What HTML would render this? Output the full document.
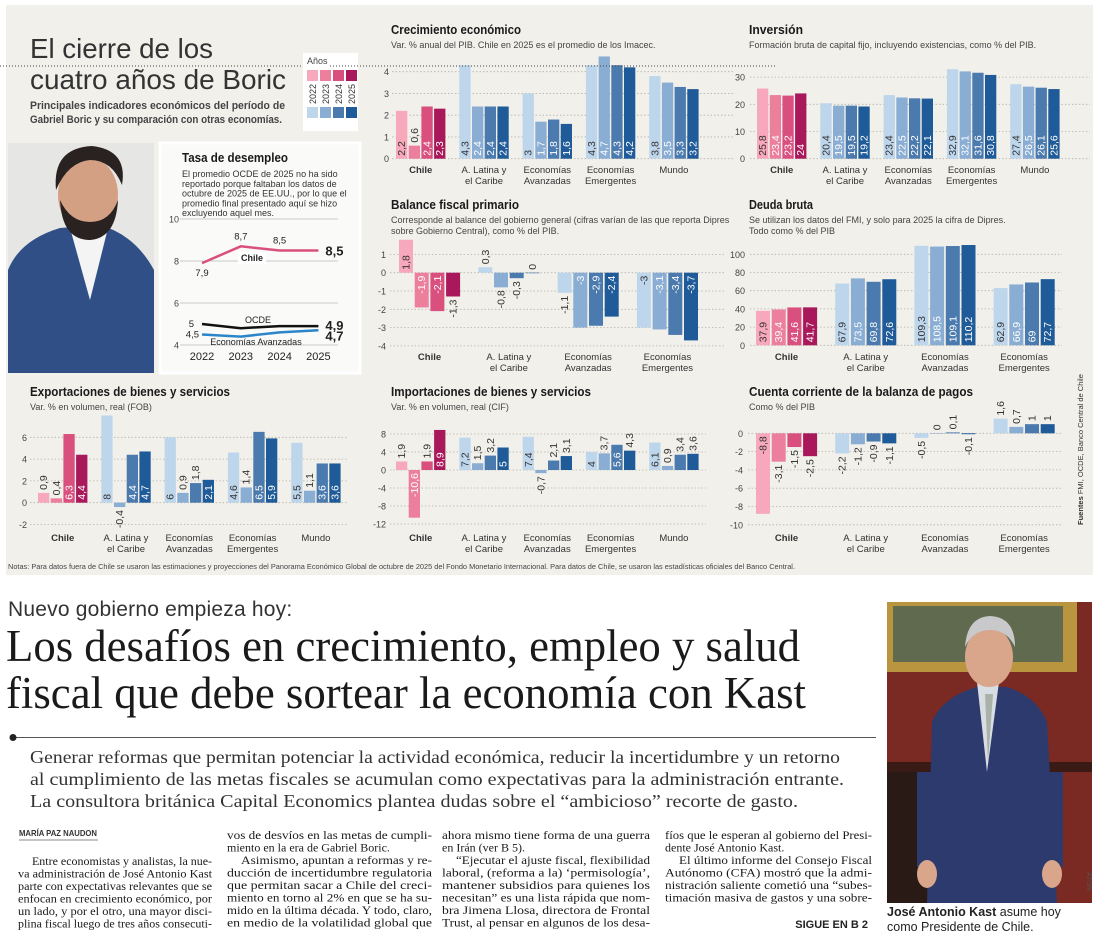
<!DOCTYPE html>
<html><head><meta charset="utf-8">
<style>
*{margin:0;padding:0;box-sizing:border-box}
body{width:1100px;height:943px;background:#fff;position:relative;overflow:hidden;font-family:"Liberation Sans",sans-serif;color:#222}
.abs{position:absolute}
</style></head><body>
<svg id="info" class="abs" style="left:0;top:0" width="1100" height="580">
<rect x="6" y="5" width="1087" height="570" fill="#f2f0eb"/>
</svg>

<div class="abs" style="left:8px;top:598px;font-size:21px;color:#333;letter-spacing:0.2px">Nuevo gobierno empieza hoy:</div>

<svg id="article" class="abs" style="left:0;top:580px" width="885" height="363">
<g font-family="Liberation Serif, serif" fill="#1a1a1a">
<text x="6" y="81" font-size="45" textLength="794" lengthAdjust="spacingAndGlyphs">Los desafíos en crecimiento, empleo y salud</text>
<text x="6" y="128" font-size="45" textLength="800" lengthAdjust="spacingAndGlyphs">fiscal que debe sortear la economía con Kast</text>
</g>
<line x1="14" y1="157.5" x2="876" y2="157.5" stroke="#555" stroke-width="1"/>
<circle cx="13" cy="157.5" r="3.5" fill="#222"/>
<g font-family="Liberation Serif, serif" fill="#333" font-size="18">
<text x="30" y="183" textLength="810" lengthAdjust="spacingAndGlyphs">Generar reformas que permitan potenciar la actividad económica, reducir la incertidumbre y un retorno</text>
<text x="30" y="205" textLength="814" lengthAdjust="spacingAndGlyphs">al cumplimiento de las metas fiscales se acumulan como expectativas para la administración entrante.</text>
<text x="30" y="227" textLength="768" lengthAdjust="spacingAndGlyphs">La consultora británica Capital Economics plantea dudas sobre el “ambicioso” recorte de gasto.</text>
</g>
<text x="19" y="256" font-size="8.5" font-weight="bold" fill="#333" textLength="78" lengthAdjust="spacingAndGlyphs">MARÍA PAZ NAUDON</text>
<line x1="19" y1="260" x2="98" y2="260" stroke="#888" stroke-width="1"/>
<text x="868" y="348" font-size="11" font-weight="bold" fill="#222" text-anchor="end">SIGUE EN B 2</text>
</svg>

<svg class="abs" style="left:887px;top:602px" width="205" height="301">
<rect width="205" height="301" fill="#7a2a22"/>
<rect x="0" y="0" width="190" height="70" fill="#b8953e"/>
<rect x="6" y="4" width="170" height="56" fill="#5f6a4e"/>
<rect x="0" y="160" width="205" height="10" fill="#3a1a14"/>
<rect x="0" y="170" width="60" height="131" fill="#2a1a15"/>
<path d="M40 301 L45 120 Q55 95 90 85 L120 85 Q150 95 160 120 L170 301 Z" fill="#2c3a6e"/>
<path d="M90 80 L100 170 L112 80 Z" fill="#d8dde3"/>
<path d="M98 92 L101 160 L106 92 Z" fill="#a9b1a8"/>
<ellipse cx="102" cy="55" rx="24" ry="30" fill="#d9a58b"/>
<path d="M78 45 Q80 15 103 14 Q128 15 128 45 Q120 28 103 28 Q86 28 78 45Z" fill="#c9c9cc"/>
<rect x="30" y="170" width="16" height="95" fill="#2c3a6e"/>
<rect x="160" y="170" width="16" height="95" fill="#2c3a6e"/>
<ellipse cx="40" cy="272" rx="10" ry="14" fill="#d9a58b"/>
<ellipse cx="165" cy="272" rx="10" ry="14" fill="#d9a58b"/>
</svg>
<div class="abs" style="left:1092px;top:872px;font-size:7px;color:#555;transform:rotate(90deg);transform-origin:0 0">ATON</div>
<div class="abs" style="left:887px;top:905px;font-size:12.5px;line-height:15px;color:#222"><b>José Antonio Kast</b> asume hoy<br>como Presidente de Chile.</div>

<script>
const NS='http://www.w3.org/2000/svg';
const svg=document.getElementById('info');
const art=document.getElementById('article');
const PINK=['#f7a8ba','#ec7f9c','#d9507f','#a8185b'];
const BLUE=['#bed6ec','#8aadd4','#4b7aae','#1f5b98'];

// ---- data ----
const groups5=[['Chile'],['A. Latina y','el Caribe'],['Economías','Avanzadas'],['Economías','Emergentes'],['Mundo']];
const groups4=[['Chile'],['A. Latina y','el Caribe'],['Economías','Avanzadas'],['Economías','Emergentes']];
const years=['2022','2023','2024','2025'];

const growthValues=[[2.2,0.6,2.4,2.3],[4.3,2.4,2.4,2.4],[3,1.7,1.8,1.6],[4.3,4.7,4.3,4.2],[3.8,3.5,3.3,3.2]];
const growthTicks=[0,1,2,3,4];
const investValues=[[25.8,23.4,23.2,24],[20.4,19.5,19.5,19.2],[23.4,22.5,22.2,22.1],[32.9,32.1,31.6,30.8],[27.4,26.5,26.1,25.6]];
const investTicks=[0,10,20,30];
const fiscalValues=[[1.8,-1.9,-2.1,-1.3],[0.3,-0.8,-0.3,0],[-1.1,-3,-2.9,-2.4],[-3,-3.1,-3.4,-3.7]];
const fiscalTicks=[1,0,-1,-2,-3,-4];
const debtValues=[[37.9,39.4,41.6,41.7],[67.9,73.5,69.8,72.6],[109.3,108.5,109.1,110.2],[62.9,66.9,69,72.7]];
const debtTicks=[0,20,40,60,80,100];
const exportValues=[[0.9,0.4,6.3,4.4],[8,-0.4,4.4,4.7],[6,0.9,1.8,2.1],[4.6,1.4,6.5,5.9],[5.5,1.1,3.6,3.6]];
const exportTicks=[-2,0,2,4,6];
const importValues=[[1.9,-10.6,1.9,8.9],[7.2,1.5,3.2,5],[7.4,-0.7,2.1,3.1],[4,3.7,5.6,4.3],[6.1,0.9,3.4,3.6]];
const importTicks=[8,4,0,-4,-8,-12];
const currentValues=[[-8.8,-3.1,-1.5,-2.5],[-2.2,-1.2,-0.9,-1.1],[-0.5,0,0.1,-0.1],[1.6,0.7,1,1]];
const currentTicks=[0,-2,-4,-6,-8,-10];

const unempChile=[7.9,8.7,8.5,8.5];
const unempOcde=[5,4.8,4.9,4.9];
const unempAvz=[4.5,4.4,4.6,4.7];
const unempTicks=[4,6,8,10];

function fmt(v){return String(v).replace('.',',');}
function el(tag,parent){const e=document.createElementNS(NS,tag);parent.appendChild(e);return e;}
function txt(parent,x,y,s,size,opts){
  const t=el('text',parent);t.setAttribute('x',x);t.setAttribute('y',y);
  t.setAttribute('font-size',size);t.setAttribute('font-family',(opts&&opts.serif)?'Liberation Serif, serif':'Liberation Sans, sans-serif');
  t.setAttribute('fill',(opts&&opts.fill)||'#333');
  if(opts&&opts.bold)t.setAttribute('font-weight','bold');
  if(opts&&opts.anchor)t.setAttribute('text-anchor',opts.anchor);
  if(opts&&opts.len){t.setAttribute('textLength',opts.len);t.setAttribute('lengthAdjust','spacingAndGlyphs');}
  t.textContent=s;return t;
}

// ---- article body columns ----
const col1=[['Entre economistas y analistas, la nue-','i'],['va administración de José Antonio Kast','j'],['parte con expectativas relevantes que se','j'],['enfocan en crecimiento económico, por','j'],['un lado, y por el otro, una mayor disci-','j'],['plina fiscal luego de tres años consecuti-','j']];
const col2=[['vos de desvíos en las metas de cumpli-','j'],['miento en la era de Gabriel Boric.','e'],['Asimismo, apuntan a reformas y re-','i'],['ducción de incertidumbre regulatoria','j'],['que permitan sacar a Chile del creci-','j'],['miento en torno al 2% en que se ha su-','j'],['mido en la última década. Y todo, claro,','j'],['en medio de la volatilidad global que','j']];
const col3=[['ahora mismo tiene forma de una guerra','j'],['en Irán (ver B 5).','e'],['“Ejecutar el ajuste fiscal, flexibilidad','i'],['laboral, (reforma a la) ‘permisología’,','j'],['mantener subsidios para quienes los','j'],['necesitan” es una lista rápida que nom-','j'],['bra Jimena Llosa, directora de Frontal','j'],['Trust, al pensar en algunos de los desa-','j']];
const col4=[['fíos que le esperan al gobierno del Presi-','j'],['dente José Antonio Kast.','e'],['El último informe del Consejo Fiscal','i'],['Autónomo (CFA) mostró que la admi-','j'],['nistración saliente cometió una “subes-','j'],['timación masiva de gastos y una sobre-','j']];
function column(lines,x,w,y0,name){
  const g=el('g',art);
  
  
  lines.forEach((ln,i)=>{
    const ind=ln[1]==='i'?14:0;
    const t=txt(g,x+ind,y0+i*12.5,ln[0],12,{serif:true,fill:'#1a1a1a',len:ln[1]==='e'?null:(w-ind)});
    
    
  });
}
column(col1,18,194,285,'body-column-1');
column(col2,227,205,259,'body-column-2');
column(col3,442,208,259,'body-column-3');
column(col4,665,207,259,'body-column-4');

function barChart(c){
  const g=el('g',svg);
  
  
  const y=v=>c.y0-v*c.k;
  const tt=txt(g,c.tx,c.ty,c.title,13,{bold:true,fill:'#1a1a1a',len:c.tlen});
  
  
  c.sub.forEach((s,i)=>{const st=txt(g,c.tx,c.ty+14+i*11,s,9,{fill:'#444'});
    
    });
  c.ticks.forEach(tv=>{
    const ln=el('line',g);ln.setAttribute('x1',c.gx1);ln.setAttribute('x2',c.gx2);
    ln.setAttribute('y1',y(tv));ln.setAttribute('y2',y(tv));
    ln.setAttribute('stroke','#b5b3ad');ln.setAttribute('stroke-width','0.8');ln.setAttribute('stroke-dasharray','1.5,2');
    
    
    const tl=txt(g,c.ax,y(tv)+3.5,String(tv),9,{anchor:'end',fill:'#444'});
    
    
  });
  c.values.forEach((vals,gi)=>{
    const gx=c.x0+gi*c.gstep;
    const cols=gi===0?PINK:BLUE;
    vals.forEach((v,si)=>{
      const bx=gx+si*c.bstep;
      const top=Math.min(y(v),y(0)), h=Math.max(Math.abs(y(v)-y(0)),0.5);
      const r=el('rect',g);r.setAttribute('x',bx);r.setAttribute('y',top);
      r.setAttribute('width',c.bw);r.setAttribute('height',h);r.setAttribute('fill',cols[si]);
      
      
      const s=fmt(v), tl=s.length*5.6+4;
      const cx=bx+c.bw/2+3.5;
      let ty,anchor,fill='#333';
      if(h>tl+2){ fill=si===0?'#333':'#fff';
        if(v>=0){ty=y(0)-3;anchor='start';} else {ty=y(0)+3;anchor='end';}
      } else {
        if(v>=0){ty=y(v)-3;anchor='start';} else {ty=y(v)+3;anchor='end';}
      }
      const t=txt(g,cx,ty,s,10.5,{anchor:anchor,fill:fill});
      t.setAttribute('transform','rotate(-90 '+cx+' '+ty+')');
      
      
    });
    const lc=gx+(vals.length*c.bstep-(c.bstep-c.bw))/2;
    c.labels[gi].forEach((line,li)=>{
      const t=txt(g,lc,c.ly+li*11,line,9.5,{anchor:'middle',bold:gi===0,fill:'#333'});
      
      
    });
  });
}

barChart({name:'growth-chart',title:'Crecimiento económico',tlen:130,sub:['Var. % anual del PIB. Chile en 2025 es el promedio de los Imacec.'],tx:391,ty:34,
  values:growthValues,labels:groups5,ticks:growthTicks,y0:158.7,k:21.75,x0:396,gstep:63.3,bstep:12.7,bw:11.3,ax:389,gx1:392,gx2:735,ly:173});
barChart({name:'investment-chart',title:'Inversión',tlen:54,sub:['Formación bruta de capital fijo, incluyendo existencias, como % del PIB.'],tx:749,ty:34,
  values:investValues,labels:groups5,ticks:investTicks,y0:158.7,k:2.72,x0:757,gstep:63.3,bstep:12.7,bw:11.3,ax:745,gx1:750,gx2:1090,ly:173});
barChart({name:'fiscal-balance-chart',title:'Balance fiscal primario',tlen:128,sub:['Corresponde al balance del gobierno general (cifras varían de las que reporta Dipres','sobre Gobierno Central), como % del PIB.'],tx:391,ty:209,
  values:fiscalValues,labels:groups4,ticks:fiscalTicks,y0:272.7,k:18.3,x0:399,gstep:79.3,bstep:15.7,bw:14,ax:386,gx1:390,gx2:725,ly:360});
barChart({name:'debt-chart',title:'Deuda bruta',tlen:64,sub:['Se utilizan los datos del FMI, y solo para 2025 la cifra de Dipres.','Todo como % del PIB'],tx:749,ty:209,
  values:debtValues,labels:groups4,ticks:debtTicks,y0:345.3,k:0.91,x0:756,gstep:79.2,bstep:15.7,bw:14,ax:745,gx1:750,gx2:1062,ly:360});
barChart({name:'exports-chart',title:'Exportaciones de bienes y servicios',tlen:200,sub:['Var. % en volumen, real (FOB)'],tx:30,ty:396,
  values:exportValues,labels:groups5,ticks:exportTicks,y0:502.7,k:10.9,x0:38,gstep:63.3,bstep:12.7,bw:11.3,ax:27,gx1:30,gx2:348,ly:541});
barChart({name:'imports-chart',title:'Importaciones de bienes y servicios',tlen:200,sub:['Var. % en volumen, real (CIF)'],tx:391,ty:396,
  values:importValues,labels:groups5,ticks:importTicks,y0:470,k:4.5,x0:396,gstep:63.3,bstep:12.7,bw:11.3,ax:386,gx1:390,gx2:706,ly:541});
barChart({name:'current-account-chart',title:'Cuenta corriente de la balanza de pagos',tlen:224,sub:['Como % del PIB'],tx:749,ty:396,
  values:currentValues,labels:groups4,ticks:currentTicks,y0:433.3,k:9.15,x0:756,gstep:79.2,bstep:15.7,bw:14,ax:743,gx1:748,gx2:1063,ly:541});

(function(){
  const g=el('g',svg);
  
  
  const t1=txt(g,30,58,'El cierre de los',28,{fill:'#333',len:183});
  
  
  const t2=txt(g,30,89,'cuatro años de Boric',28,{fill:'#333',len:256});
  
  
  const dl=el('line',g);dl.setAttribute('x1',0);dl.setAttribute('x2',775);dl.setAttribute('y1',66);dl.setAttribute('y2',66);
  dl.setAttribute('stroke','#444');dl.setAttribute('stroke-dasharray','1,2');
  
  
  const s1=txt(g,30,109,'Principales indicadores económicos del período de',11,{bold:true,fill:'#444',len:255});
  
  
  const s2=txt(g,30,123,'Gabriel Boric y su comparación con otras economías.',11,{bold:true,fill:'#444',len:252});
  
  
  const lg=el('g',svg);
  
  
  const lb=el('rect',lg);lb.setAttribute('x',303);lb.setAttribute('y',53);lb.setAttribute('width',55);lb.setAttribute('height',78);lb.setAttribute('fill','#fff');
  const dl2=el('line',lg);dl2.setAttribute('x1',330);dl2.setAttribute('x2',360);dl2.setAttribute('y1',66);dl2.setAttribute('y2',66);
  dl2.setAttribute('stroke','#444');dl2.setAttribute('stroke-dasharray','1,2');
  txt(lg,307,64,'Años',9,{fill:'#444'});
  years.forEach((yr,i)=>{
    const x=307+i*13;
    const a=el('rect',lg);a.setAttribute('x',x);a.setAttribute('y',70);a.setAttribute('width',11);a.setAttribute('height',11);a.setAttribute('fill',PINK[i]);
    
    
    const b=el('rect',lg);b.setAttribute('x',x);b.setAttribute('y',107);b.setAttribute('width',11);b.setAttribute('height',11);b.setAttribute('fill',BLUE[i]);
    
    
    const t=txt(lg,x+9,104,yr,9,{fill:'#333'});
    t.setAttribute('transform','rotate(-90 '+(x+9)+' 104)');
    
    
  });
  const fs=txt(svg,1083,525,'',7.5,{fill:'#333'});
  fs.innerHTML='<tspan font-weight="bold">Fuentes</tspan> FMI, OCDE, Banco Central de Chile';
  fs.setAttribute('transform','rotate(-90 1083 525)');
  
  
  const nt=txt(svg,8,569,'Notas: Para datos fuera de Chile se usaron las estimaciones y proyecciones del Panorama Económico Global de octubre de 2025 del Fondo Monetario Internacional. Para datos de Chile, se usaron las estadísticas oficiales del Banco Central.',7.3,{fill:'#444',len:787});
  
  
})();

(function(){
  const g=el('g',svg);
  
  
  g.innerHTML='<rect x="8" y="143" width="146" height="230" fill="#e6e6e4"/>'+
  '<path d="M8 373 L8 270 Q20 240 60 228 L100 225 Q135 235 154 270 L154 373 Z" fill="#2f4f86"/>'+
  '<path d="M70 228 L90 300 L108 228 Z" fill="#f4f4f4"/>'+
  '<ellipse cx="88" cy="195" rx="30" ry="38" fill="#d3a084"/>'+
  '<path d="M60 200 Q62 240 90 240 Q116 238 118 200 Q110 222 90 222 Q70 222 60 200Z" fill="#2a2220"/>'+
  '<path d="M56 190 Q52 148 92 146 Q128 150 122 185 Q112 160 90 160 Q68 162 56 190Z" fill="#2a2220"/>';
})();

(function(){
  const g=el('g',svg);
  
  
  const bg=el('rect',g);bg.setAttribute('x',160);bg.setAttribute('y',143);bg.setAttribute('width',200);bg.setAttribute('height',230);
  bg.setAttribute('fill','#fafaf8');bg.setAttribute('stroke','#fff');bg.setAttribute('stroke-width','3');
  const t=txt(g,182,162,'Tasa de desempleo',13,{bold:true,fill:'#1a1a1a',len:106});
  
  
  ['El promedio OCDE de 2025 no ha sido','reportado porque faltaban los datos de','octubre de 2025 de EE.UU., por lo que el','promedio final presentado aquí se hizo','excluyendo aquel mes.'].forEach((s,i)=>{
    const st=txt(g,182,177+i*9.8,s,9,{fill:'#333'});
    
    
  });
  const y=v=>345-(v-4)*21;
  const x=i=>202+i*38.8;
  unempTicks.forEach(tv=>{
    const ln=el('line',g);ln.setAttribute('x1',180);ln.setAttribute('x2',338);ln.setAttribute('y1',y(tv));ln.setAttribute('y2',y(tv));
    ln.setAttribute('stroke','#bbb');ln.setAttribute('stroke-width','0.8');
    
    
    const tl=txt(g,179,y(tv)+3.5,String(tv),9,{anchor:'end',fill:'#444'});
    
    
  });
  function line(vals,color,w,name){
    const p=el('polyline',g);
    p.setAttribute('points',vals.map((v,i)=>x(i)+','+y(v)).join(' '));
    p.setAttribute('fill','none');p.setAttribute('stroke',color);p.setAttribute('stroke-width',w);
    
    
  }
  line(unempAvz,'#2b86c9',2.5,'line-economias-avanzadas');
  line(unempOcde,'#111',2.5,'line-ocde');
  line(unempChile,'#d9507f',2.5,'line-chile');
  const lbl=(s,xx,yy,size,bold,anchor)=>{const t=txt(g,xx,yy,s,size,{bold:bold,anchor:anchor||'middle',fill:'#222'});
    return t;};
  lbl(fmt(unempChile[0]),x(0),y(unempChile[0])+13,9.5,false);
  lbl(fmt(unempChile[1]),x(1),y(unempChile[1])-7,9.5,false);
  lbl(fmt(unempChile[2]),x(2),y(unempChile[2])-7,9.5,false);
  lbl(fmt(unempChile[3]),x(3)+7,y(unempChile[3])+5,13,true,'start');
  lbl(fmt(unempOcde[0]),x(0)-8,y(unempOcde[0])+3,9.5,false,'end');
  lbl(fmt(unempOcde[3]),x(3)+7,y(unempOcde[3])+4,13,true,'start');
  lbl(fmt(unempAvz[0]),x(0)-3,y(unempAvz[0])+3,9.5,false,'end');
  lbl(fmt(unempAvz[3]),x(3)+7,y(unempAvz[3])+10,13,true,'start');
  const cb=el('rect',g);cb.setAttribute('x',238);cb.setAttribute('y',252);cb.setAttribute('width',28);cb.setAttribute('height',12);cb.setAttribute('fill','#fff');
  lbl('Chile',252,261,9,true);
  lbl('OCDE',258,323,9,false);
  lbl('Economías Avanzadas',256,345,9,false);
  years.forEach((yr,i)=>{const t=txt(g,x(i),360,yr,11,{anchor:'middle',fill:'#222'});
    });
})();
</script>
</body></html>
